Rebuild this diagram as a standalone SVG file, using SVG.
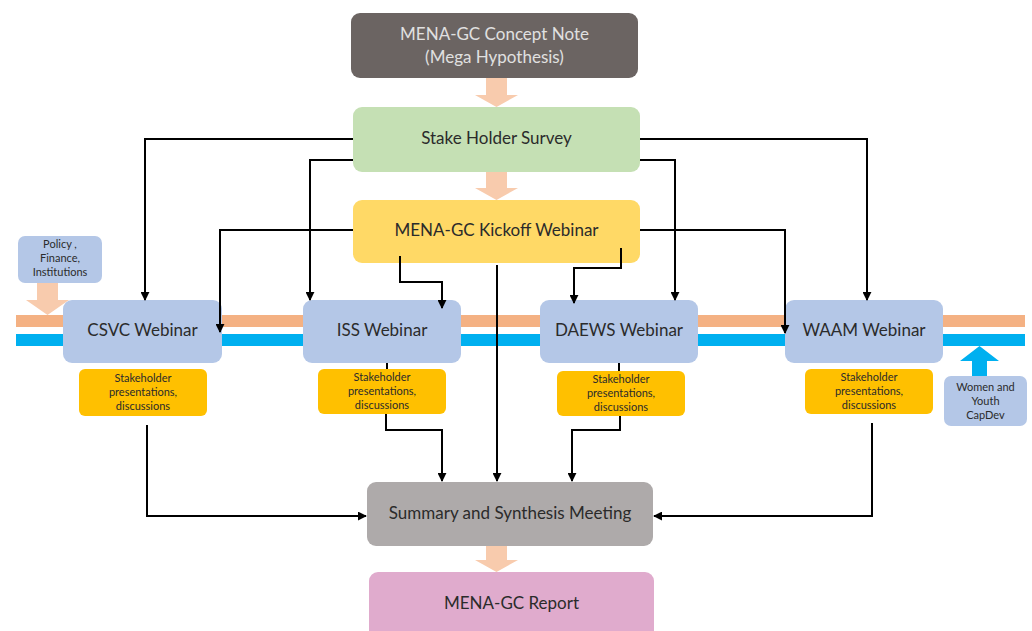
<svg xmlns="http://www.w3.org/2000/svg" width="1032" height="631" viewBox="0 0 1032 631">
<defs>
<marker id="ah" viewBox="0 0 10 10" refX="9" refY="5" markerWidth="4.5" markerHeight="4.5" orient="auto"><path d="M0,0 L10,5 L0,10 z" fill="#000"/></marker>
<style>
.n{font-family:Lato,"Open Sans","Liberation Sans",sans-serif;text-anchor:middle;dominant-baseline:middle}
.c{fill:none;stroke:#000;stroke-width:2;marker-end:url(#ah)}
.cl{fill:none;stroke:#000;stroke-width:2}
.web{fill:#b4c7e7}
.stk{fill:#ffc000}
.big{font-size:17px;fill:#2b2b2b}
.sm{font-size:11px;fill:#2b2b2b}
</style>
</defs>
<rect width="1032" height="631" fill="#fff"/>
<g id="bands">
<rect x="16" y="315" width="1009" height="12" fill="#f4b183"/>
<rect x="16" y="334" width="1009" height="12" fill="#00b0f0"/>
</g>
<g id="block-arrows" fill="#f8cbad">
<path d="M486,78 H507 V95 H518 L496.5,107 L475,95 H486 Z"/>
<path d="M486,172 H507 V188 H518 L496.5,200 L475,188 H486 Z"/>
<path d="M486,546 H507 V560 H518 L496.5,572 L475,560 H486 Z"/>
<path d="M37,283 H58 V300 H69 L47.5,315 L26,300 H37 Z" fill="#f8cbad"/>
<path d="M972,376 H987 V361 H999 L979.5,346 L960,361 H972 Z" fill="#00b0f0"/>
</g>
<g id="concept-note">
<rect x="351" y="13" width="287" height="65" rx="9" fill="#6b6462"/>
<text class="n" x="494.5" y="36" font-size="17" fill="#e0e0e0">MENA-GC Concept Note</text>
<text class="n" x="494.5" y="59" font-size="17" fill="#e0e0e0">(Mega Hypothesis)</text>
</g>
<g id="stakeholder-survey">
<rect x="353" y="107" width="287" height="65" rx="9" fill="#c5e0b4"/>
<text class="n big" x="496.5" y="140" font-size="16">Stake Holder Survey</text>
</g>
<g id="kickoff">
<rect x="353" y="200" width="287" height="63" rx="9" fill="#ffd966"/>
<text class="n big" x="496.5" y="232" font-size="17.5">MENA-GC Kickoff Webinar</text>
</g>
<g id="policy">
<rect x="18" y="236" width="84" height="47" rx="7" class="web"/>
<text class="n sm" x="60" y="245">Policy ,</text>
<text class="n sm" x="60" y="259">Finance,</text>
<text class="n sm" x="60" y="273">Institutions</text>
</g>
<g id="csvc">
<rect x="63" y="300" width="159" height="63" rx="9" class="web"/>
<text class="n big" x="142.5" y="332" font-size="19">CSVC Webinar</text>
</g>
<g id="iss">
<rect x="303" y="300" width="158" height="63" rx="9" class="web"/>
<text class="n big" x="382" y="332" font-size="19">ISS Webinar</text>
</g>
<g id="daews">
<rect x="540" y="300" width="158" height="63" rx="9" class="web"/>
<text class="n big" x="619" y="332" font-size="19">DAEWS Webinar</text>
</g>
<g id="waam">
<rect x="785" y="300" width="158" height="63" rx="9" class="web"/>
<text class="n big" x="864" y="332" font-size="19">WAAM Webinar</text>
</g>
<g id="women">
<rect x="944" y="376" width="83" height="50" rx="7" class="web"/>
<text class="n sm" x="985.5" y="388">Women and</text>
<text class="n sm" x="985.5" y="402">Youth</text>
<text class="n sm" x="985.5" y="416">CapDev</text>
</g>
<g id="stk-csvc">
<rect x="79" y="369" width="128" height="47" rx="6" class="stk"/>
<text class="n sm" x="143" y="379">Stakeholder</text>
<text class="n sm" x="143" y="393">presentations,</text>
<text class="n sm" x="143" y="407">discussions</text>
</g>
<g id="stk-iss">
<rect x="318" y="369" width="128" height="45" rx="6" class="stk"/>
<text class="n sm" x="382" y="378">Stakeholder</text>
<text class="n sm" x="382" y="392">presentations,</text>
<text class="n sm" x="382" y="406">discussions</text>
</g>
<g id="stk-daews">
<rect x="557" y="371" width="128" height="45" rx="6" class="stk"/>
<text class="n sm" x="621" y="380">Stakeholder</text>
<text class="n sm" x="621" y="394">presentations,</text>
<text class="n sm" x="621" y="408">discussions</text>
</g>
<g id="stk-waam">
<rect x="805" y="369" width="128" height="45" rx="6" class="stk"/>
<text class="n sm" x="869" y="378">Stakeholder</text>
<text class="n sm" x="869" y="392">presentations,</text>
<text class="n sm" x="869" y="406">discussions</text>
</g>
<g id="summary">
<rect x="367" y="482" width="286" height="64" rx="9" fill="#aeaaaa"/>
<text class="n big" x="510" y="515" font-size="17">Summary and Synthesis Meeting</text>
</g>
<g id="report">
<rect x="369" y="572" width="285" height="70" rx="9" fill="#e0abcd"/>
<text class="n big" x="511.5" y="605" font-size="17">MENA-GC Report</text>
</g>
<g id="connectors">
<path class="c" d="M353,139 H145 V300"/>
<path class="c" d="M353,160 H310 V300"/>
<path class="c" d="M640,139 H867 V300"/>
<path class="c" d="M640,160 H675 V300"/>
<path class="c" d="M353,230 H220 V332"/>
<path class="c" d="M640,230 H785 V333"/>
<path class="c" d="M400,256 V282 H442 V308"/>
<path class="c" d="M621,248 V268 H574 V303"/>
<path class="c" d="M497,265 V481"/>
<path class="cl" d="M387,363 V369"/>
<path class="cl" d="M619,363 V371"/>
<path class="c" d="M147,425 V516 H366"/>
<path class="c" d="M872,423 V516 H654"/>
<path class="c" d="M386,414 V430 H442 V481"/>
<path class="c" d="M620,416 V430 H572 V481"/>
</g>
</svg>
